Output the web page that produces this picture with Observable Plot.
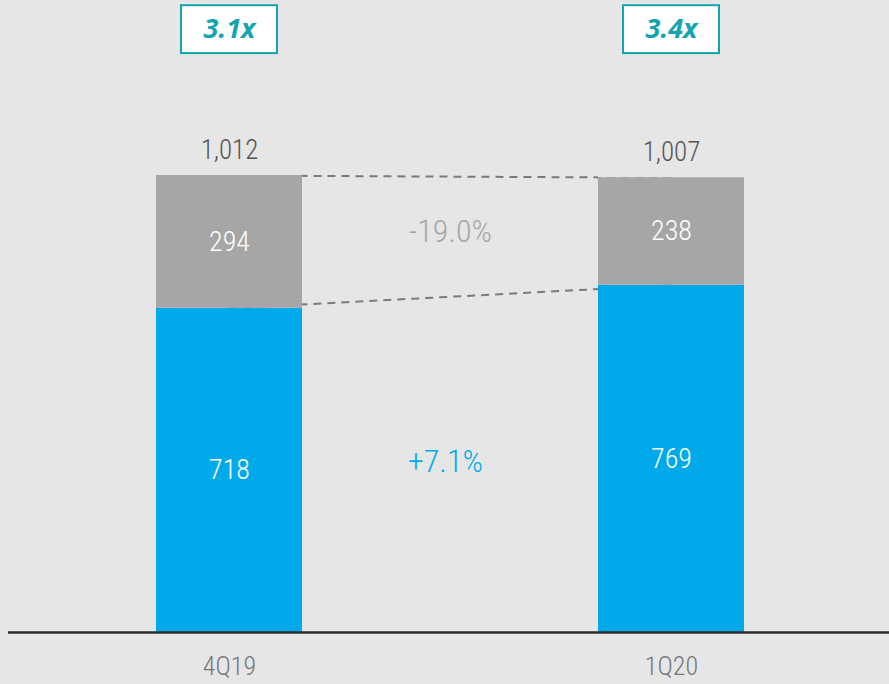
<!DOCTYPE html>
<html>
<head>
<meta charset="utf-8">
<script src="https://cdn.jsdelivr.net/npm/d3@7"></script>
<script src="https://cdn.jsdelivr.net/npm/@observablehq/plot@0.6"></script>
<style>
  html, body { margin: 0; padding: 0; background: #e6e6e6; }
  #chart { width: 889px; height: 684px; }
</style>
</head>
<body>
<div id="chart"></div>
<script>
const categories = ["4Q19", "1Q20"];
const blueValues = [718, 769];
const grayValues = [294, 238];
const totals = [1012, 1007];
const multiples = ["3.1x", "3.4x"];
const grayChange = "-19.0%";
const blueChange = "+7.1%";

const FONT = "'Roboto Condensed', 'Liberation Sans Narrow', 'DejaVu Sans Condensed', Roboto, sans-serif";
const BLUE = "#00aaea";
const GRAY = "#a6a6a6";
const TEAL = "#14a4ae";
const BG = "#e6e6e6";

const rows = [];
categories.forEach((c, i) => {
  rows.push({cat: c, series: "core", value: blueValues[i]});
  rows.push({cat: c, series: "other", value: grayValues[i]});
});
const totalRows = categories.map((c, i) => ({cat: c, total: totals[i], mult: multiples[i]}));
const links = [
  {y1: totals[0], y2: totals[1]},
  {y1: blueValues[0], y2: blueValues[1]}
];

const chart = Plot.plot({
  width: 889,
  height: 684,
  marginLeft: 8,
  marginRight: 0,
  marginTop: 0,
  marginBottom: 52,
  style: {background: BG, fontFamily: FONT, overflow: "visible"},
  x: {type: "band", domain: categories, range: [8, 892], paddingInner: 0.6697, paddingOuter: 0.3348, label: null},
  y: {domain: [0, 1012], range: [632, 175], axis: null},
  color: {domain: ["core", "other"], range: [BLUE, GRAY]},
  marks: [
    Plot.link(links, {x1: () => categories[0], x2: () => categories[1], y1: "y1", y2: "y2",
      stroke: "#7a7a7a", strokeWidth: 2, strokeDasharray: "8,6"}),
    Plot.barY(totalRows, {x: "cat", y1: "total", y2: d => d.total + 8, fill: BG}),
    Plot.barY(rows, {x: "cat", y: "value", fill: "series", order: ["core", "other"]}),
    Plot.text(rows, Plot.stackY({x: "cat", y: "value", z: "series", order: ["core", "other"], text: d => String(d.value),
      fill: "white", fontSize: 28, fontWeight: 300})),
    Plot.text(totalRows, {x: "cat", y: "total", text: d => d3.format(",")(d.total), dy: -25,
      fill: "#555", fontSize: 27, fontWeight: 300}),
    Plot.barY(totalRows, {x: "cat", y1: 1282, y2: 1388, insetLeft: 25, insetRight: 25,
      fill: "white", stroke: TEAL, strokeWidth: 2}),
    Plot.text(totalRows, {x: "cat", y: 1335, text: "mult", fill: TEAL, fontSize: 27,
      fontWeight: 700, fontStyle: "italic", fontFamily: "'Open Sans', sans-serif"}),
    Plot.text([grayChange], {x: () => categories[0], y: () => 888, text: d => d, dx: 221,
      fill: "#a6a6a6", fontSize: 32, fontWeight: 300}),
    Plot.text([blueChange], {x: () => categories[0], y: () => 379, text: d => d, dx: 216,
      fill: BLUE, fontSize: 32, fontWeight: 300}),
    Plot.ruleY([0], {stroke: "#2e2e2e", strokeWidth: 2.5}),
    Plot.axisX({tickSize: 0, tickPadding: 24, fontSize: 26, fontWeight: 300, color: "#777", fill: "#777"})
  ]
});
document.getElementById("chart").appendChild(chart);
</script>
</body>
</html>
